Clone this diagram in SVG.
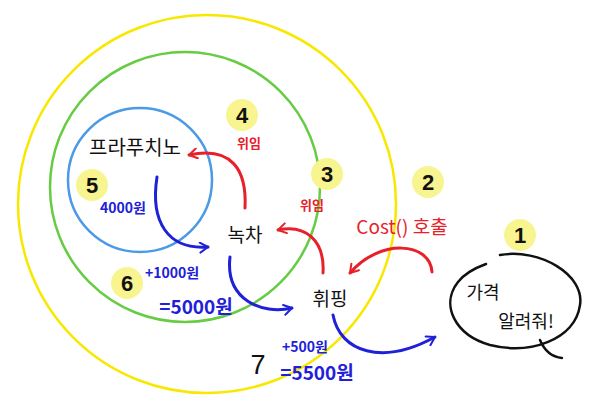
<svg xmlns="http://www.w3.org/2000/svg" width="592" height="407" viewBox="0 0 592 407">
<style>
.ring{fill:none;stroke-width:2.5}
.hl{fill:#f8f590}
.num{font-family:"Liberation Sans","Noto Sans CJK KR",sans-serif;font-size:22px;fill:#111;text-anchor:middle;font-weight:bold}
.blk{font-family:"Noto Sans CJK KR",sans-serif;fill:#111;text-anchor:middle}
.red{font-family:"Noto Sans CJK KR",sans-serif;fill:#e8202a;text-anchor:middle;font-weight:bold}
.blu{font-family:"Noto Sans CJK KR",sans-serif;fill:#2020d8;text-anchor:middle;font-weight:bold}
.ra{fill:none;stroke:#e8202a;stroke-width:3;stroke-linecap:round;marker-end:url(#mr)}
.ba{fill:none;stroke:#2020d8;stroke-width:3;stroke-linecap:round;marker-end:url(#mb)}
</style>
<defs>
<marker id="mr" viewBox="0 0 12 12" refX="10" refY="6" markerWidth="4" markerHeight="4" orient="auto" markerUnits="strokeWidth">
<path d="M2,1 L10,6 L2,11" fill="none" stroke="#e8202a" stroke-width="2" stroke-linecap="round" stroke-linejoin="round"/>
</marker>
<marker id="mb" viewBox="0 0 12 12" refX="10" refY="6" markerWidth="4" markerHeight="4" orient="auto" markerUnits="strokeWidth">
<path d="M2,1 L10,6 L2,11" fill="none" stroke="#2020d8" stroke-width="2" stroke-linecap="round" stroke-linejoin="round"/>
</marker>
</defs>
<rect width="592" height="407" fill="#fff"/>
<g id="whipping-ring"><circle class="ring" cx="207" cy="204" r="189" stroke="#f8e800"/></g>
<g id="greentea-ring"><circle class="ring" cx="185" cy="187" r="135" stroke="#66cc44"/></g>
<g id="frappuccino-ring"><circle class="ring" cx="140" cy="180" r="72" stroke="#4a9ae8"/></g>

<g id="step-markers">
<circle class="hl" cx="242" cy="115" r="16"/><text class="num" x="242" y="123">4</text>
<circle class="hl" cx="92" cy="185" r="16"/><text class="num" x="92" y="193">5</text>
<circle class="hl" cx="327" cy="174" r="16"/><text class="num" x="327" y="182">3</text>
<circle class="hl" cx="428" cy="182" r="16"/><text class="num" x="428" y="190">2</text>
<circle class="hl" cx="520" cy="235" r="16"/><text class="num" x="520" y="243">1</text>
<circle class="hl" cx="127" cy="283" r="16"/><text class="num" x="127" y="291">6</text>
<text class="num" x="258" y="374" style="font-size:27px;font-weight:normal">7</text>
</g>

<g id="frappuccino"><text class="blk" x="135" y="155" font-size="20">프라푸치노</text></g>
<g id="greentea"><text class="blk" x="245" y="242" font-size="19">녹차</text></g>
<g id="whipping"><text class="blk" x="330" y="306" font-size="19">휘핑</text></g>
<g id="customer">
<path d="M500,255 C540,248 585,275 580,305 C575,340 530,355 490,345 C455,335 440,305 458,282 C465,273 475,268 486,264" fill="none" stroke="#111" stroke-width="2.5" stroke-linecap="round"/>
<path d="M540,340 C545,352 552,357 562,358" fill="none" stroke="#111" stroke-width="2.5" stroke-linecap="round"/>
<text class="blk" x="483" y="299" font-size="18">가격</text>
<text class="blk" x="526" y="328" font-size="18">알려줘!</text>
</g>

<g id="labels">
<text class="red" x="249" y="148" font-size="13">위임</text>
<text class="red" x="312" y="210" font-size="13">위임</text>
<text class="red" x="402" y="234" style="font-size:19px;font-weight:normal">Cost() 호출</text>
<text class="blu" x="123" y="213" font-size="14">4000원</text>
<text class="blu" x="172" y="278" font-size="14">+1000원</text>
<text class="blu" x="196" y="314" font-size="19">=5000원</text>
<text class="blu" x="305" y="352" font-size="14">+500원</text>
<text class="blu" x="317" y="380" font-size="19">=5500원</text>
</g>

<g id="connectors">
<path class="ra" d="M432,272 C430,242 380,238 350,273"/>
<path class="ra" d="M323,273 C325,240 305,224 278,230"/>
<path class="ra" d="M245,208 C247,170 232,146 189,155"/>
<path class="ba" d="M157,177 C150,222 168,250 208,247"/>
<path class="ba" d="M230,257 C225,300 262,315 292,308"/>
<path class="ba" d="M333,315 C340,352 382,366 435,337"/>
</g>
</svg>
